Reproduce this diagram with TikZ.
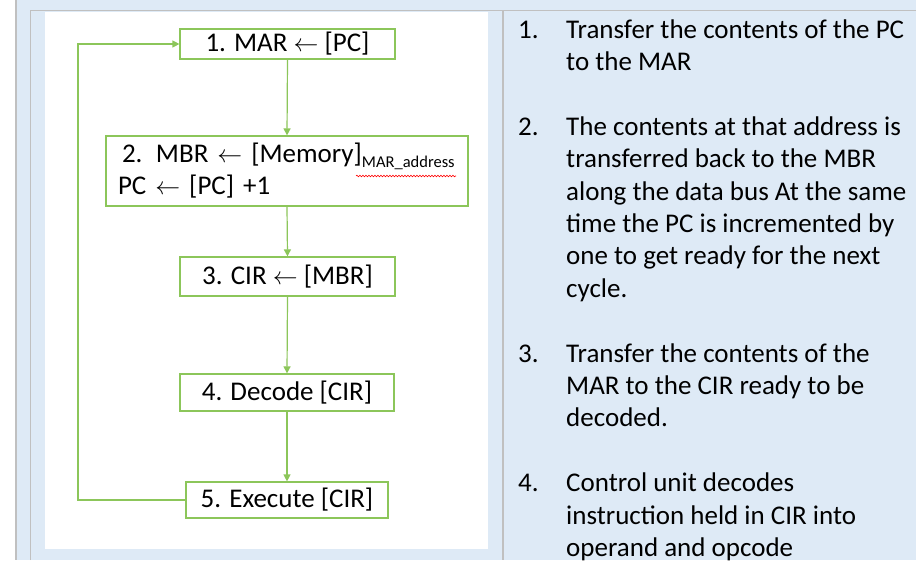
\documentclass[tikz,border=0pt]{standalone}
\usepackage{fontspec}
\setmainfont{Carlito}
\usepackage{tikz}
\usetikzlibrary{arrows.meta}
\usetikzlibrary{decorations.pathmorphing}
\definecolor{cellblue}{RGB}{222,234,246}
\definecolor{rulegray}{RGB}{192,192,192}
\definecolor{boxgreen}{RGB}{140,198,90}

\begin{document}
\begin{tikzpicture}[x=1pt, y=-1pt,
  stage/.style={draw=boxgreen, line width=1.2pt, fill=white, inner sep=0pt, font=\fontsize{27}{32}\selectfont},
  flow/.style={draw=boxgreen, line width=1.2pt, -{Triangle[length=7pt,width=7pt]}},
  item/.style={anchor=base west, inner sep=0pt, align=left, font=\fontsize{27}{32.4}\selectfont}]
  \useasboundingbox (0,0) rectangle (916,560);

  % Table cells and borders
  \fill[white] (0,0) rectangle (15,560);
  \fill[cellblue] (15,0) rectangle (916,560);
  \draw[rulegray, line width=1.5pt] (16,0) -- (16,560);
  \draw[rulegray, line width=1.5pt] (30.5,560) -- (30.5,10.5) -- (916,10.5);
  \draw[rulegray, line width=1.5pt] (503,10.5) -- (503,560);
  \fill[white] (45,12) rectangle (488,549);

  % Fetch-execute cycle on the left
  \node[stage, minimum width=215pt, minimum height=30pt] (b1) at (287.5,44) {1. MAR $\leftarrow$ [PC]};
  \node[stage, minimum width=362pt, minimum height=70pt, text width=338pt, inner xsep=12pt, align=left] (b2) at (287,171)
    {\mbox{\hspace*{4pt}2. MBR $\leftarrow$ [Memory]\raisebox{-5pt}{\fontsize{16.5}{18}\selectfont MAR\_address}}\\PC $\leftarrow$ [PC] +1};
  \node[stage, minimum width=215pt, minimum height=39pt] (b3) at (287.5,276.5) {3. CIR $\leftarrow$ [MBR]};
  \node[stage, minimum width=214pt, minimum height=37pt] (b4) at (287,392.5) {4. Decode [CIR]};
  \node[stage, minimum width=202pt, minimum height=36pt] (b5) at (287,500) {5. Execute [CIR]};

  \draw[red, line width=0.6pt, decorate, decoration={snake, amplitude=0.8pt, segment length=3pt}] (356,176) -- (456,176);

  \draw[flow] (b1.south) -- (b2.north);
  \draw[flow] (b2.south) -- (b3.north);
  \draw[flow] (b3.south) -- (b4.north);
  \draw[flow] (b4.south) -- (b5.north);

  % Back to the start
  \coordinate (back) at (78,500);
  \draw[flow] (b5.west) -- (back) |- (b1.west);

  % Explanations on the right (placed at the last line)
  \node[item] (k1) at (518,38) {1.};
  \node[item] (desc1) at (566,70.4) {Transfer the contents of the PC\\to the MAR};
  \node[item] (k2) at (518,135.2) {2.};
  \node[item] (desc2) at (566,297.2) {The contents at that address is\\transferred back to the MBR\\along the data bus At the same\\time the PC is incremented by\\one to get ready for the next\\cycle.};
  \node[item] (k3) at (518,362) {3.};
  \node[item] (desc3) at (566,426.8) {Transfer the contents of the\\MAR to the CIR ready to be\\decoded.};
  \node[item] (k4) at (518,491.6) {4.};
  \node[item] (desc4) at (566,556.4) {Control unit decodes\\instruction held in CIR into\\operand and opcode};
\end{tikzpicture}
\end{document}
